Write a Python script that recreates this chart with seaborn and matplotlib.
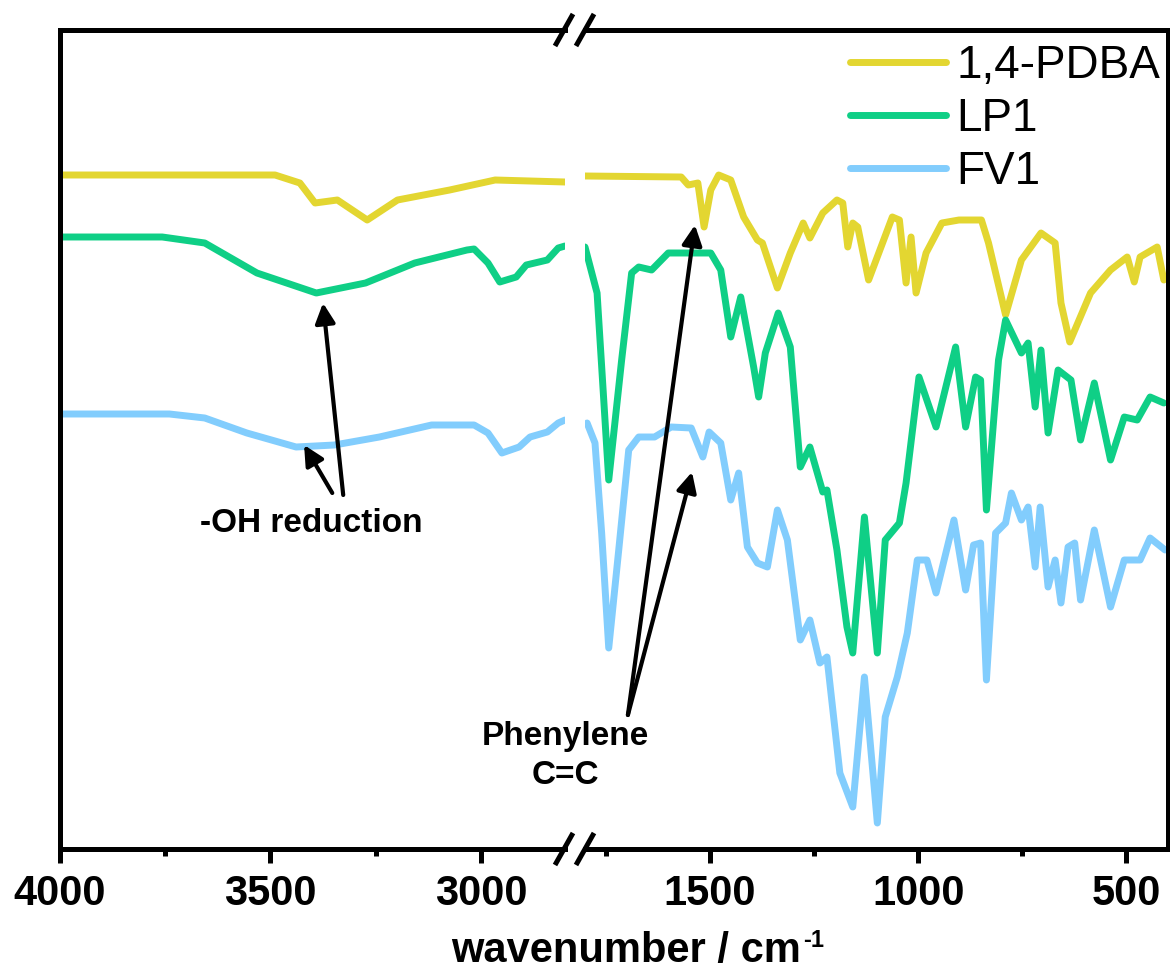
import numpy as np
import pandas as pd
import matplotlib
matplotlib.use("Agg")
import matplotlib.pyplot as plt
from matplotlib.lines import Line2D
import seaborn as sns

# FTIR spectra, heights in arbitrary units (offset traces)
# high-wavenumber window 4000-2800
pdba_wn_hi = [4000, 3489, 3430, 3394, 3341, 3270, 3198, 3074, 2966, 2800]
pdba_hi = [672, 672, 664, 644, 647, 627, 647, 657, 667, 665]
lp1_wn_hi = [4000, 3757, 3656, 3532, 3391, 3274, 3157, 3033, 3016, 2983, 2955, 2916, 2892, 2842, 2816, 2800]
lp1_hi = [610, 610, 604, 574, 554, 564, 584, 597, 598, 584, 565, 570, 582, 587, 599, 601]
fv1_wn_hi = [4000, 3740, 3656, 3556, 3439, 3348, 3241, 3117, 3016, 2983, 2950, 2909, 2883, 2842, 2816, 2800]
fv1_hi = [433, 433, 429, 414, 400, 402, 410, 422, 422, 414, 394, 400, 410, 415, 424, 427]

# fingerprint window 1800-400
pdba_wn_lo = [1800, 1569, 1552, 1529, 1514, 1498, 1479, 1450, 1419, 1386, 1374, 1338, 1307, 1276,
              1260, 1229, 1195, 1181, 1169, 1157, 1145, 1119, 1062, 1045, 1029, 1017, 1005, 981,
              943, 902, 848, 831, 790, 752, 705, 671, 657, 636, 586, 538, 498, 481, 467, 426, 410]
pdba_lo = [671, 670, 662, 664, 620, 657, 672, 667, 630, 607, 604, 559, 594, 624,
           609, 634, 647, 644, 600, 624, 620, 567, 630, 627, 564, 610, 554, 594,
           624, 627, 627, 604, 532, 587, 614, 604, 544, 505, 554, 577, 590, 565, 590, 600, 567]
lp1_wn_lo = [1800, 1771, 1743, 1712, 1688, 1671, 1640, 1600, 1498, 1474, 1450, 1426, 1410, 1395,
             1383, 1367, 1336, 1307, 1283, 1260, 1229, 1219, 1195, 1171, 1157, 1129, 1098, 1079,
             1045, 1029, 998, 957, 910, 886, 862, 850, 836, 807, 790, 752, 736, 719, 705, 688,
             664, 633, 610, 577, 538, 505, 474, 443, 410]
lp1_lo = [600, 554, 367, 487, 574, 580, 577, 594, 594, 577, 510, 550, 514, 480,
          450, 494, 534, 500, 380, 400, 355, 357, 297, 220, 194, 330, 194, 307,
          324, 364, 470, 420, 500, 420, 470, 467, 337, 487, 527, 494, 504, 440, 497, 414,
          477, 467, 407, 464, 387, 430, 427, 450, 444]
fv1_wn_lo = [1795, 1776, 1760, 1743, 1719, 1695, 1671, 1633, 1593, 1545, 1517, 1502, 1474, 1450,
             1431, 1410, 1386, 1362, 1338, 1314, 1283, 1260, 1236, 1219, 1188, 1157, 1129, 1098,
             1079, 1050, 1026, 1002, 979, 957, 914, 886, 867, 850, 836, 814, 790, 776, 752, 736,
             719, 707, 688, 671, 657, 640, 624, 610, 577, 538, 505, 467, 443, 407]
fv1_lo = [424, 404, 314, 199, 297, 397, 410, 410, 420, 419, 390, 415, 404, 347,
          374, 300, 284, 280, 337, 307, 207, 227, 184, 190, 74, 40, 170, 24,
          130, 170, 214, 287, 287, 254, 327, 257, 302, 304, 167, 314, 324, 354, 327, 340,
          280, 340, 260, 287, 244, 300, 304, 247, 317, 240, 287, 287, 309, 297]

samples = ["1,4-PDBA", "LP1", "FV1"]
colors = {"1,4-PDBA": "#E3D631", "LP1": "#0FCF86", "FV1": "#82CDFD"}

hi_df = pd.concat([
    pd.DataFrame({"wn": pdba_wn_hi, "y": pdba_hi, "sample": "1,4-PDBA"}),
    pd.DataFrame({"wn": lp1_wn_hi, "y": lp1_hi, "sample": "LP1"}),
    pd.DataFrame({"wn": fv1_wn_hi, "y": fv1_hi, "sample": "FV1"}),
])
lo_df = pd.concat([
    pd.DataFrame({"wn": pdba_wn_lo, "y": pdba_lo, "sample": "1,4-PDBA"}),
    pd.DataFrame({"wn": lp1_wn_lo, "y": lp1_lo, "sample": "LP1"}),
    pd.DataFrame({"wn": fv1_wn_lo, "y": fv1_lo, "sample": "FV1"}),
])

sns.set_theme(style="white")
plt.rcParams["font.family"] = ["Liberation Sans", "DejaVu Sans"]
plt.rcParams["text.color"] = "black"
plt.rcParams["xtick.color"] = "black"
plt.rcParams["xtick.labelcolor"] = "black"

W, H = 1170, 971
fig = plt.figure(figsize=(W / 100, H / 100), dpi=100)
bottom_px, top_px = 849, 30
ax_b = (H - bottom_px) / H
ax_h = (bottom_px - top_px) / H
ax1 = fig.add_axes([60 / W, ax_b, 505 / W, ax_h])
ax2 = fig.add_axes([585 / W, ax_b, 583 / W, ax_h])

LW = 5
for ax, df in [(ax1, hi_df), (ax2, lo_df)]:
    sns.lineplot(data=df, x="wn", y="y", hue="sample", hue_order=samples, palette=colors,
                 sort=False, estimator=None, lw=LW, ax=ax, legend=False)
    ax.set_ylim(-2, 817)
    ax.set_yticks([])
    ax.set_xlabel("")
    ax.set_ylabel("")
    for s in ax.spines.values():
        s.set_linewidth(3.6)
        s.set_color("black")
    ax.tick_params(axis="x", which="major", direction="out", length=10, width=3.6,
                   labelsize=30, pad=8, colors="black", bottom=True)
    ax.tick_params(axis="x", which="minor", direction="out", length=5, width=3.6, bottom=True)

ax1.set_xlim(4000, 2800)
ax1.set_xticks([4000, 3500, 3000])
ax1.set_xticks([3750, 3250], minor=True)
ax1.spines["right"].set_visible(False)

ax2.set_xlim(1800, 400)
ax2.set_xticks([1500, 1000, 500])
ax2.set_xticks([1750, 1250, 750], minor=True)
ax2.spines["left"].set_visible(False)

for ax in (ax1, ax2):
    for lab in ax.get_xticklabels():
        lab.set_fontweight("bold")

# axis break marks
for yc in (top_px, bottom_px):
    for xc in (564, 585):
        fig.add_artist(Line2D([(xc - 9) / W, (xc + 9) / W],
                              [(H - yc - 16) / H, (H - yc + 16) / H],
                              color="black", lw=3.6, solid_capstyle="butt"))

fig.text(801 / W, 1 - 951 / H, "wavenumber / cm", ha="right", va="center",
         fontsize=30, fontweight="bold")
fig.text(803 / W, 1 - 940 / H, "-1", ha="left", va="center", fontsize=17, fontweight="bold")

# legend
handles = [Line2D([], [], color=colors[s], lw=LW) for s in samples]
fig.legend(handles, samples, loc="upper right", bbox_to_anchor=(1160 / W, 1 - 44 / H),
           frameon=False, fontsize=33, handlelength=2.1, handletextpad=0.22,
           labelspacing=0.2, borderpad=0, borderaxespad=0)

arrow = dict(arrowstyle="-|>,head_length=0.6,head_width=0.3", lw=3, color="black",
             mutation_scale=20, shrinkA=0, shrinkB=0)
ax1.annotate("", xy=(3375, 544), xytext=(3327, 352), arrowprops=arrow)
ax1.annotate("", xy=(3420, 402), xytext=(3353, 354), arrowprops=arrow)
ax1.text(3403, 324, "-OH reduction", ha="center", va="center", fontsize=24, fontweight="bold")

ax2.annotate("", xy=(1536, 622), xytext=(1697, 132), arrowprops=arrow)
ax2.annotate("", xy=(1543, 375), xytext=(1697, 132), arrowprops=arrow)
ax2.text(1846, 91, "Phenylene\nC=C", ha="center", va="center", fontsize=24,
         fontweight="bold", linespacing=1.35, clip_on=False)

fig.savefig("out.png", dpi=100)
